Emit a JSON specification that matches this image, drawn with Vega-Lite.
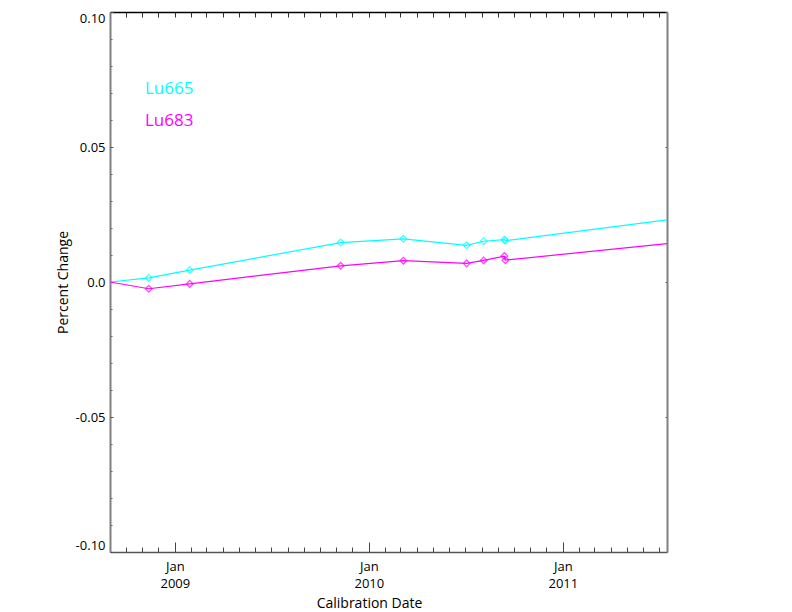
{
  "$schema": "https://vega.github.io/schema/vega-lite/v6.json",
  "width": 557,
  "height": 540,
  "autosize": {"type": "none"},
  "padding": {"left": 110, "top": 12, "right": 125, "bottom": 60},
  "background": "white",
  "config": {
    "view": {"stroke": null},
    "font": "Open Sans",
    "axis": {"grid": false, "labelFont": "Open Sans", "titleFont": "Open Sans", "labelColor": "black", "titleColor": "black", "titleFontWeight": "normal", "labelFontSize": 13, "titleFontSize": 14}
  },
  "data": {
    "values": [
      {"date": "2008-09-01", "series": "Lu665", "value": 0},
      {"date": "2008-11-13", "series": "Lu665", "value": 0.0015},
      {"date": "2009-01-29", "series": "Lu665", "value": 0.0044},
      {"date": "2009-11-09", "series": "Lu665", "value": 0.0146},
      {"date": "2010-03-07", "series": "Lu665", "value": 0.016},
      {"date": "2010-07-04", "series": "Lu665", "value": 0.0136},
      {"date": "2010-08-05", "series": "Lu665", "value": 0.0151},
      {"date": "2010-09-13", "series": "Lu665", "value": 0.0157},
      {"date": "2010-09-15", "series": "Lu665", "value": 0.0153},
      {"date": "2011-07-16", "series": "Lu665", "value": 0.023},
      {"date": "2008-09-01", "series": "Lu683", "value": 0},
      {"date": "2008-11-13", "series": "Lu683", "value": -0.0025},
      {"date": "2009-01-29", "series": "Lu683", "value": -0.0007},
      {"date": "2009-11-09", "series": "Lu683", "value": 0.006},
      {"date": "2010-03-07", "series": "Lu683", "value": 0.0079},
      {"date": "2010-07-04", "series": "Lu683", "value": 0.0069},
      {"date": "2010-08-05", "series": "Lu683", "value": 0.008},
      {"date": "2010-09-13", "series": "Lu683", "value": 0.0096},
      {"date": "2010-09-15", "series": "Lu683", "value": 0.0081},
      {"date": "2011-07-16", "series": "Lu683", "value": 0.0142}
    ]
  },
  "resolve": {"axis": {"x": "independent", "y": "independent"}},
  "layer": [
    {
      "mark": {"type": "line", "strokeWidth": 1.2, "clip": true},
      "encoding": {
        "x": {"field": "date", "type": "temporal",
              "scale": {"type": "utc", "nice": false, "domain": ["2008-09-01", "2011-07-16"]},
              "axis": {"orient": "bottom", "tickCount": "month", "tickSize": -5, "labels": false, "domain": true, "domainColor": "#555", "domainWidth": 1.5, "tickColor": "#444", "title": null}},
        "y": {"field": "value", "type": "quantitative",
              "scale": {"domain": [-0.1, 0.1], "nice": false, "zero": false},
              "axis": {"orient": "left", "values": [-0.09, -0.08, -0.07, -0.06, -0.04, -0.03, -0.02, -0.01, 0.01, 0.02, 0.03, 0.04, 0.06, 0.07, 0.08, 0.09], "tickSize": -2, "labels": false, "domain": true, "domainColor": "#808080", "domainWidth": 2, "tickColor": "#555", "title": null}},
        "color": {"field": "series", "type": "nominal",
                  "scale": {"domain": ["Lu665", "Lu683"], "range": ["#00FFFF", "#FF00FF"]},
                  "legend": {"orient": "none", "legendX": 18, "legendY": 68, "title": null, "padding": 0, "symbolSize": 0, "symbolOpacity": 0, "symbolStrokeWidth": 0, "labelOffset": 0, "rowPadding": 14, "labelFontSize": 17, "labelFont": "Open Sans",
                             "labelBaseline": "middle",
                             "encode": {"labels": {"update": {"fill": {"scale": "color", "field": "value"}}}}}}
      }
    },
    {
      "transform": [{"filter": "+toDate(datum.date) > +toDate('2008-09-05') && +toDate(datum.date) < +toDate('2011-07-01')"}],
      "mark": {"type": "point", "shape": "diamond", "filled": false, "size": 45, "strokeWidth": 1.3},
      "encoding": {
        "x": {"field": "date", "type": "temporal",
              "axis": {"orient": "bottom", "tickCount": "year", "tickSize": -10, "tickColor": "#444", "domain": false, "labelPadding": 18, "labelLineHeight": 17, "labelExpr": "[utcFormat(datum.value, '%b'), utcFormat(datum.value, '%Y')]", "title": "Calibration Date", "titlePadding": 6, "titleX": 259}},
        "y": {"field": "value", "type": "quantitative",
              "axis": {"orient": "left", "values": [-0.1, -0.05, 0, 0.05, 0.1], "tickSize": -3, "tickColor": "#555", "domain": false, "labelPadding": 8, "labelFlush": true, "labelExpr": "datum.value < -0.07 ? '-0.10' : datum.value < -0.02 ? '-0.05' : datum.value < 0.02 ? '0.0' : datum.value < 0.07 ? '0.05' : '0.10'", "title": "Percent Change", "titlePadding": 5}},
        "color": {"field": "series", "type": "nominal"}
      }
    },
    {
      "mark": {"type": "line", "opacity": 0},
      "encoding": {
        "x": {"field": "date", "type": "temporal",
              "axis": {"orient": "top", "tickCount": "month", "tickSize": -5, "labels": false, "domain": true, "domainColor": "black", "domainWidth": 1.5, "tickColor": "#333", "title": null}},
        "y": {"field": "value", "type": "quantitative",
              "axis": {"orient": "right", "values": [-0.1, -0.05, 0, 0.05, 0.1], "tickSize": -2, "labels": false, "domain": true, "domainColor": "#808080", "domainWidth": 2, "tickColor": "#555", "title": null}},
        "detail": {"field": "series", "type": "nominal"}
      }
    }
  ]
}
